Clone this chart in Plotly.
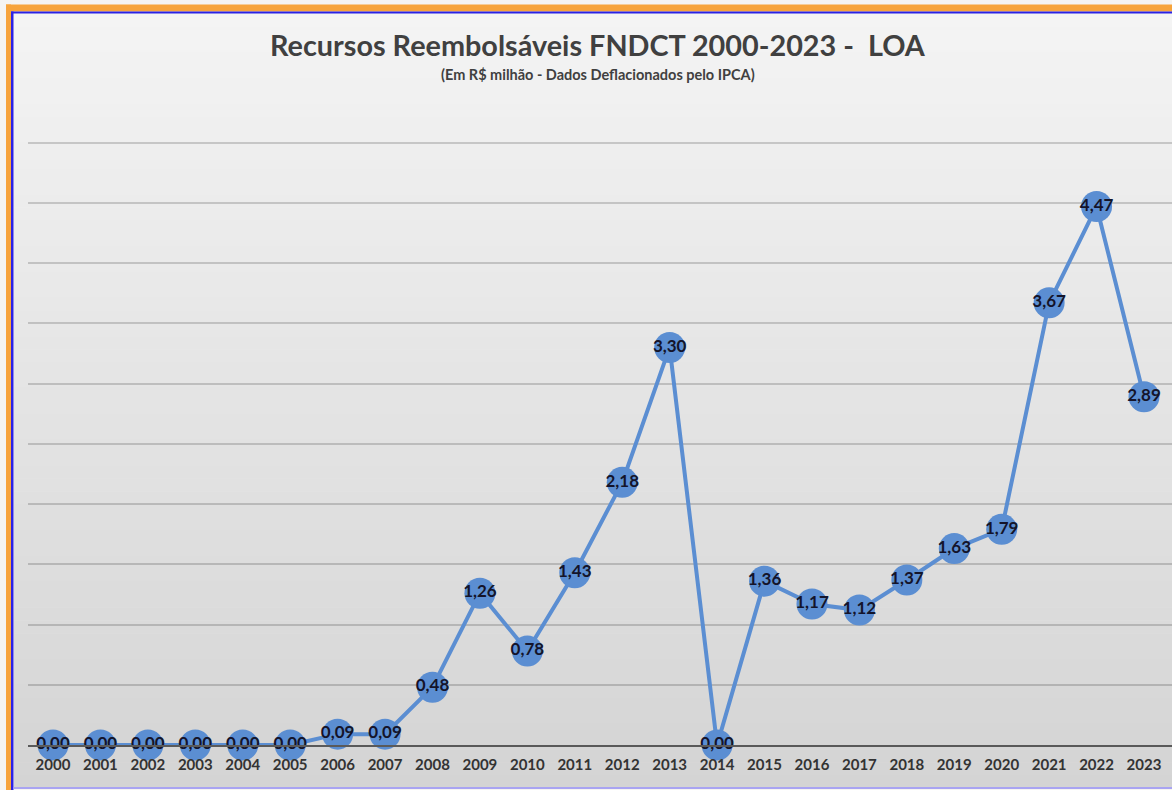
import plotly.graph_objects as go

years = [str(y) for y in range(2000, 2024)]
values = [0.00, 0.00, 0.00, 0.00, 0.00, 0.00, 0.09, 0.09, 0.48, 1.26, 0.78, 1.43,
          2.18, 3.30, 0.00, 1.36, 1.17, 1.12, 1.37, 1.63, 1.79, 3.67, 4.47, 2.89]
title_text = "Recursos Reembolsáveis FNDCT 2000-2023 -  LOA"
subtitle_text = "(Em R$ milhão - Dados Deflacionados pelo IPCA)"

W, H = 1172, 790
YMAX = 5.03
L, R, B = 28, 0, 45
T = 143 - (YMAX - 5.0) * 120.4
PW, PH = W - L - R, H - T - B


def px(x):
    return (x - L) / PW


def py(y):
    return (H - B - y) / PH


fig = go.Figure()
fig.add_trace(go.Scatter(
    x=years, y=values, mode="lines+markers+text",
    line=dict(color="#5b8ed2", width=4),
    marker=dict(size=31, color="#5b8ed2"),
    texttemplate="%{y:.2f}", textposition="middle center",
    textfont=dict(family="Lato", size=17, color="#14142a", weight="bold"),
    cliponaxis=False, hoverinfo="skip", showlegend=False,
))

shapes = []
# background gradient
n = 60
top, bot = 14, 788
c0, c1 = 244, 212
for i in range(n):
    y0 = top + (bot - top) * i / n
    y1 = top + (bot - top) * (i + 1) / n + 0.5
    c = round(c0 + (c1 - c0) * (i + 0.5) / n)
    shapes.append(dict(type="rect", xref="paper", yref="paper", layer="below",
                       x0=px(14), x1=px(W + 2), y0=py(y0), y1=py(y1),
                       fillcolor=f"rgb({c},{c},{c})", line=dict(width=0)))
# orange frame
shapes.append(dict(type="rect", xref="paper", yref="paper", layer="below",
                   x0=px(6), x1=px(W + 2), y0=py(5), y1=py(12),
                   fillcolor="#f7a43c", line=dict(width=0)))
shapes.append(dict(type="rect", xref="paper", yref="paper", layer="below",
                   x0=px(6), x1=px(11), y0=py(5), y1=py(H + 2),
                   fillcolor="#f7a43c", line=dict(width=0)))
# blue inner line
shapes.append(dict(type="rect", xref="paper", yref="paper", layer="below",
                   x0=px(11), x1=px(W + 2), y0=py(12), y1=py(14),
                   fillcolor="#2a22e6", line=dict(width=0)))
shapes.append(dict(type="rect", xref="paper", yref="paper", layer="below",
                   x0=px(11), x1=px(13.5), y0=py(12), y1=py(H + 2),
                   fillcolor="#2a22e6", line=dict(width=0)))
shapes.append(dict(type="rect", xref="paper", yref="paper", layer="below",
                   x0=px(13.5), x1=px(W + 2), y0=py(787), y1=py(789),
                   fillcolor="#a9a4f2", line=dict(width=0)))

fig.update_layout(
    width=W, height=H,
    margin=dict(l=L, r=R, t=T, b=B, pad=0),
    paper_bgcolor="#f5f4f2", plot_bgcolor="rgba(0,0,0,0)",
    separators=",.",
    shapes=shapes,
    annotations=[
        dict(text=f"<b>{title_text}</b>", xref="paper", yref="paper",
             x=px(598), y=py(45), xanchor="center", yanchor="middle", showarrow=False,
             font=dict(family="Lato", size=28.8, color="#404040")),
        dict(text=f"<b>{subtitle_text}</b>", xref="paper", yref="paper",
             x=px(598), y=py(75), xanchor="center", yanchor="middle", showarrow=False,
             font=dict(family="Lato", size=14.5, color="#404040")),
    ],
    xaxis=dict(type="category", range=[-0.527, 23.59], showgrid=False,
               showline=True, linecolor="#5a5a5a", linewidth=2,
               ticks="outside", ticklen=5, tickcolor="rgba(0,0,0,0)",
               tickfont=dict(family="Lato", size=15, color="#333333", weight="bold"),
               fixedrange=True),
    yaxis=dict(range=[0, YMAX], dtick=0.5, showgrid=True,
               gridcolor="rgba(0,0,0,0.17)", gridwidth=1.5,
               showticklabels=False, zeroline=False, fixedrange=True),
)

fig.write_html("out.html", config={"displayModeBar": False},
               post_script="document.body.style.margin='0';")
